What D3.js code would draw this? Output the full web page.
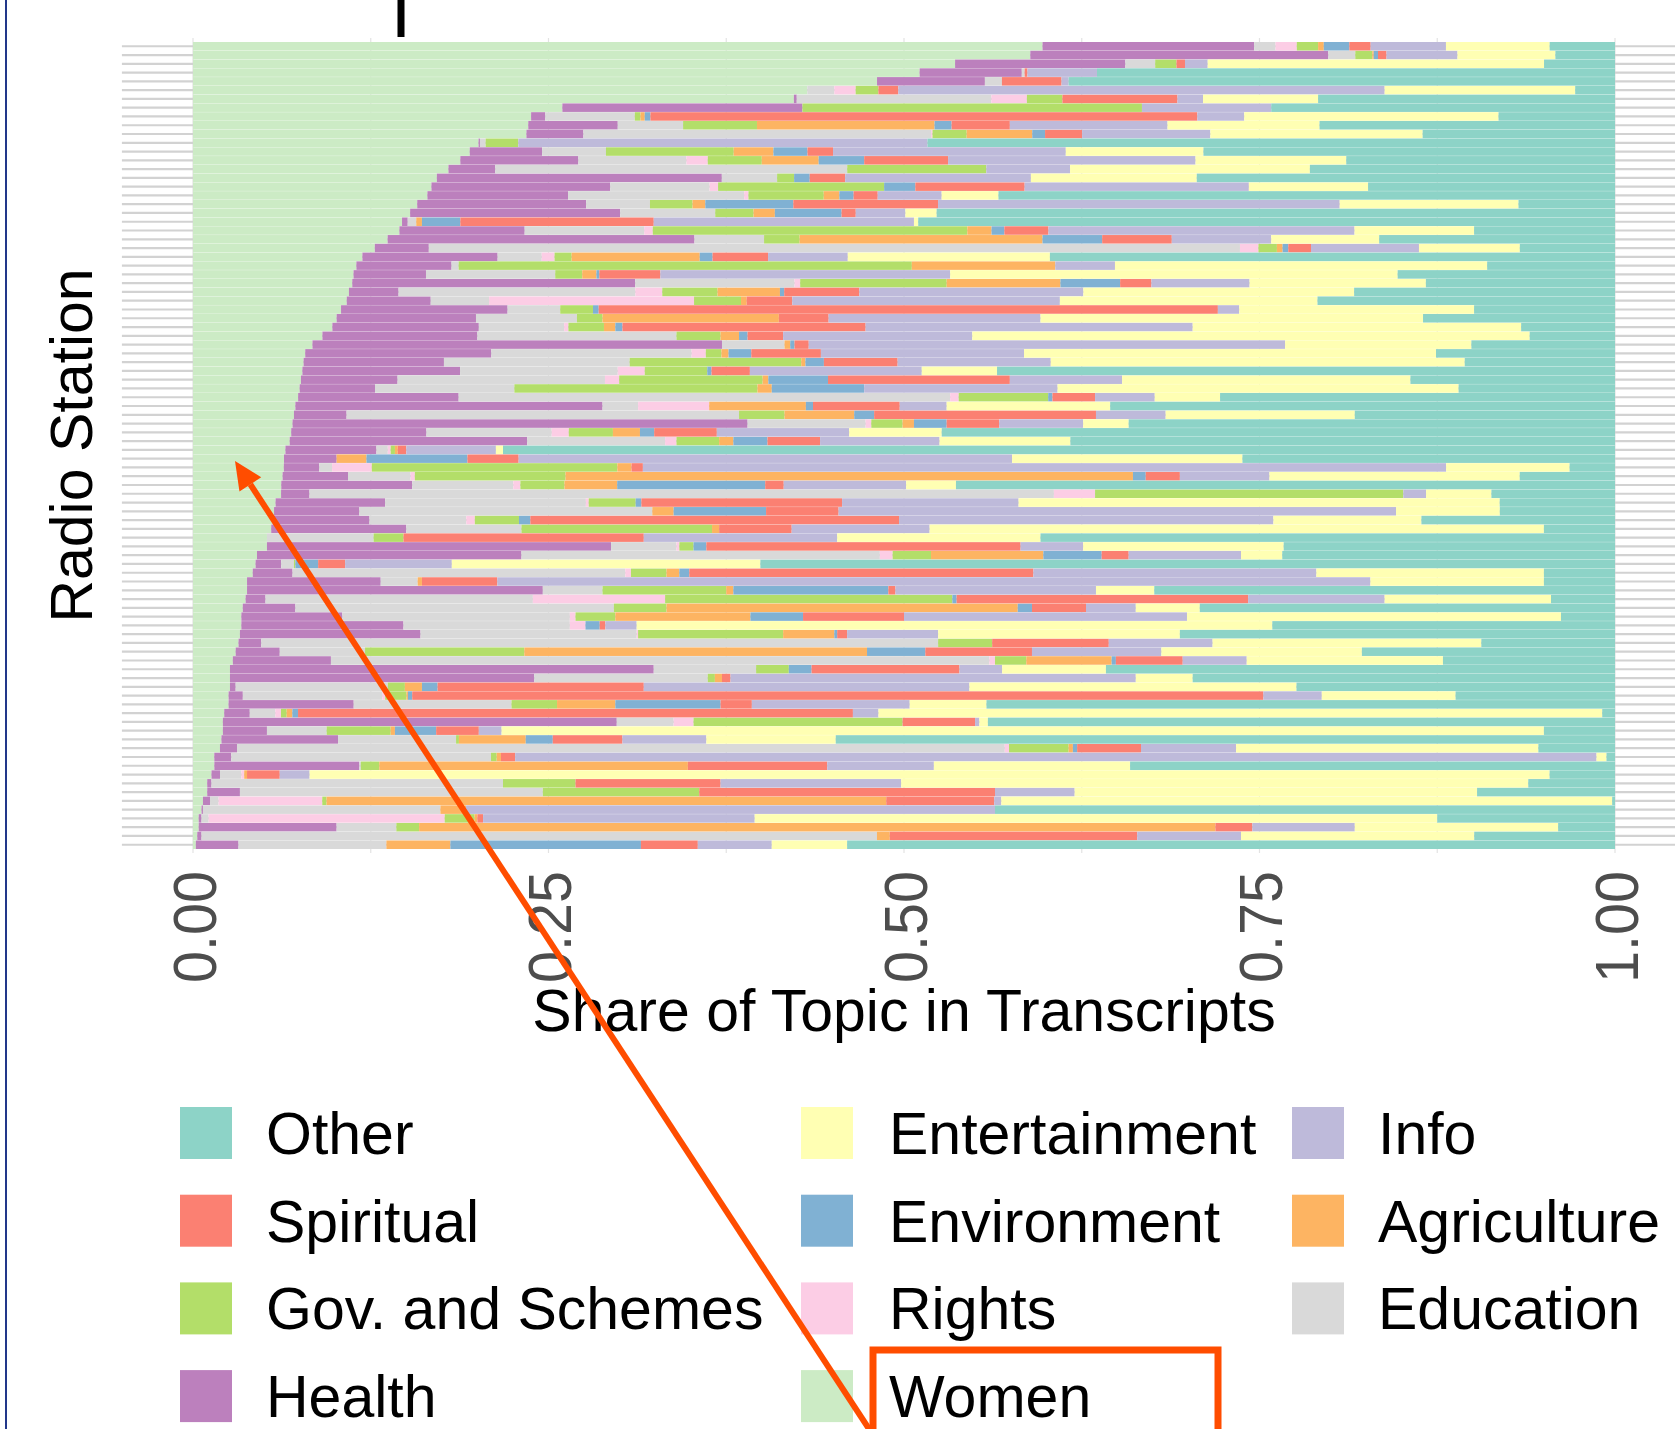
<!DOCTYPE html>
<html lang="en">
<head>
<meta charset="UTF-8">
<title>Share of Topic in Transcripts</title>
<style>
  html, body { margin: 0; padding: 0; background: #fff; }
  svg text { font-family: "Liberation Sans", Arial, Helvetica, sans-serif; }
</style>
</head>
<body>
<svg id="chart"></svg>
<script src="https://cdn.jsdelivr.net/npm/d3@7"></script>
<script>
// share of each topic per radio station (rows top to bottom, in %)
var women = [59.8, 59.0, 53.7, 51.2, 48.2, 43.2, 42.3, 26.0, 23.8, 23.6,
  23.4, 20.1, 19.5, 18.8, 18.0, 17.2, 16.8, 16.5, 15.8, 15.3,
  14.7, 14.5, 13.7, 12.8, 11.9, 11.5, 11.3, 11.2, 11.0, 10.8,
  10.4, 10.1, 9.8, 9.1, 8.4, 7.9, 7.8, 7.7, 7.6, 7.5,
  7.4, 7.2, 7.1, 7.0, 6.9, 6.8, 6.5, 6.4, 6.4, 6.3,
  6.2, 6.2, 5.8, 5.7, 5.6, 5.5, 5.2, 5.2, 4.5, 4.4,
  4.2, 3.8, 3.8, 3.7, 3.5, 3.4, 3.4, 3.3, 3.2, 3.0,
  2.8, 2.6, 2.6, 2.6, 2.5, 2.5, 2.2, 2.1, 2.1, 2.0,
  1.9, 1.5, 1.5, 1.3, 1.0, 1.0, 0.7, 0.6, 0.4, 0.4,
  0.3, 0.2];
var health = [14.9, 21.0, 12.0, 7.2, 7.6, 0, 0.2, 16.9, 1.0, 6.3,
  4.0, 0.1, 5.1, 8.3, 3.3, 20.1, 12.6, 9.9, 11.9, 14.8,
  0.4, 8.8, 21.6, 3.8, 9.5, 6.7, 5.1, 19.9, 3.5, 5.9,
  11.7, 9.8, 10.3, 10.9, 28.8, 13.1, 9.9, 11.1, 6.8, 5.3,
  11.3, 21.6, 3.7, 32.0, 9.5, 16.7, 6.4, 3.7, 2.5, 4.6,
  9.2, 2.0, 7.7, 6.0, 6.8, 9.5, 0, 24.2, 18.6, 1.8,
  2.8, 9.4, 20.8, 1.4, 3.7, 7.1, 11.4, 12.7, 1.6, 3.1,
  6.9, 29.8, 21.4, 0.4, 1.0, 8.8, 1.8, 27.7, 3.1, 8.2,
  1.2, 1.2, 10.2, 0.6, 0.3, 2.3, 0.5, 0.1, 0.2, 9.7,
  0.3, 3.0];
var education = [1.5, 1.9, 2.1, 0.2, 1.2, 1.9, 13.7, 0, 6.3, 4.6,
  24.4, 0.4, 4.5, 7.6, 24.8, 3.9, 7.0, 12.4, 4.5, 6.7,
  0.6, 8.4, 4.9, 57.1, 3.1, 0.5, 9.1, 11.2, 16.7, 4.1,
  3.7, 7.1, 6.0, 14.0, 4.4, 14.1, 13.1, 11.1, 14.6, 9.8,
  34.6, 2.5, 27.6, 8.3, 8.8, 9.7, 0.8, 0, 0.9, 4.4,
  7.1, 52.4, 14.1, 20.6, 6.8, 8.1, 7.5, 4.6, 25.2, 0.9,
  23.4, 2.6, 4.2, 18.8, 22.4, 16.0, 11.7, 15.2, 47.6, 6.0,
  46.3, 7.2, 12.2, 10.7, 9.8, 11.1, 1.8, 4.0, 4.2, 8.3,
  54.1, 18.3, 0.1, 1.5, 20.5, 21.3, 0.6, 16.7, 0.5, 4.2,
  47.5, 10.4];
var rights = [1.5, 0, 0, 0, 0, 1.5, 2.5, 0, 0, 0,
  0.1, 0, 0, 1.5, 0, 0, 0.6, 0.3, 0, 0,
  0, 0.6, 0, 1.3, 0.9, 0, 0, 0.4, 1.9, 14.4,
  0, 0, 0.3, 0, 0, 1.0, 0, 1.9, 1.0, 0,
  0.6, 5.0, 0, 0.4, 1.2, 0.8, 0.2, 0, 2.8, 0.3,
  0.5, 2.9, 0.2, 0, 0.6, 0, 0, 0.2, 0.9, 0,
  0.4, 0, 0, 9.3, 0, 0.4, 1.1, 0.1, 0, 0,
  0.4, 0, 0, 0, 0.2, 0, 0.4, 1.4, 0, 0,
  0.3, 0, 0, 0.2, 0, 0, 7.3, 0, 16.6, 0,
  0, 0];
var gov = [1.5, 1.2, 1.5, 0, 0, 1.6, 2.5, 23.9, 0.4, 5.2,
  2.4, 2.3, 9.0, 3.8, 9.8, 1.2, 11.7, 5.3, 3.0, 2.7,
  0, 22.1, 2.5, 1.3, 1.2, 31.9, 1.9, 10.3, 3.9, 3.3,
  2.3, 1.8, 2.5, 3.1, 0, 1.1, 12.1, 4.4, 10.1, 17.1,
  6.3, 0, 3.2, 2.2, 3.1, 3.0, 0.3, 0, 17.3, 10.6,
  3.1, 21.7, 3.3, 0, 3.1, 13.4, 2.1, 1.0, 2.7, 0.1,
  2.5, 0, 8.7, 20.2, 3.7, 2.8, 0, 10.2, 3.8, 11.2,
  2.2, 2.3, 0.5, 1.2, 1.5, 3.2, 0.4, 14.7, 4.5, 0.2,
  4.2, 0.4, 1.3, 0, 5.1, 11.0, 0.3, 0, 2.1, 1.6,
  0, 0];
var agriculture = [0.4, 0.1, 0, 0, 0, 0, 0, 0, 0.3, 12.5,
  4.6, 0, 2.8, 4.0, 0, 0, 0, 1.1, 0.9, 1.5,
  0.4, 1.7, 17.1, 0.4, 9.0, 10.1, 1.0, 8.0, 4.4, 0.4,
  0, 12.4, 0.8, 1.3, 0.4, 0.5, 0.3, 0, 0.4, 1.0,
  0, 6.8, 4.9, 0.8, 1.9, 1.0, 0.2, 2.1, 1.0, 39.9,
  3.7, 0, 0, 1.5, 0, 0.5, 0, 0, 7.9, 0,
  0.9, 0.3, 0.5, 0, 24.7, 9.5, 0, 3.6, 0, 24.1,
  6.0, 0, 0.5, 1.2, 0.1, 4.1, 0.4, 0, 0.3, 4.7,
  0.3, 0.3, 21.7, 0.2, 0, 0, 39.4, 1.8, 0.2, 56.0,
  0.9, 4.5];
var environment = [1.8, 0.3, 0, 0, 0, 0, 0, 0, 0.4, 1.2,
  0.9, 0, 2.4, 3.2, 0, 1.1, 2.2, 1.0, 6.2, 4.7,
  2.7, 0.9, 4.2, 0.4, 0.9, 0, 0.2, 4.2, 0.3, 0,
  0.4, 0, 0.5, 0.6, 0.3, 1.6, 1.3, 0.3, 4.2, 6.5,
  0.3, 0.5, 1.4, 2.3, 1.0, 2.4, 0, 7.1, 0, 0.9,
  10.4, 0, 0.4, 6.5, 0.8, 0, 0, 0.9, 4.1, 1.6,
  0.7, 0, 10.9, 0.3, 1.0, 3.7, 1.0, 0.2, 0, 4.1,
  0.3, 1.6, 0, 1.1, 0.3, 7.4, 0.4, 0, 2.9, 1.9,
  0.3, 0, 0, 0, 0, 0, 0, 0, 0, 0,
  0, 13.4];
var spiritual = [1.5, 0.6, 0.6, 0.2, 4.2, 1.4, 8.1, 0, 38.5, 4.1,
  2.6, 0, 1.8, 5.9, 0, 2.5, 7.7, 1.7, 10.2, 1.0,
  13.6, 3.1, 4.9, 1.6, 3.9, 0, 4.3, 2.2, 5.3, 3.2,
  43.5, 3.5, 17.1, 2.5, 1.0, 4.9, 5.2, 2.7, 12.8, 0,
  3.0, 6.1, 15.6, 3.7, 4.4, 3.7, 0.6, 3.6, 0.8, 2.4,
  1.3, 0, 14.1, 5.1, 25.9, 5.1, 16.9, 22.1, 1.9, 1.9,
  24.2, 5.3, 0.5, 20.5, 3.8, 7.1, 0.4, 0.7, 8.2, 7.5,
  4.7, 10.4, 0.6, 14.5, 59.8, 2.2, 39.1, 5.1, 3.0, 4.9,
  4.5, 1.0, 9.8, 2.3, 10.2, 20.8, 7.6, 0, 0.4, 2.6,
  17.4, 4.0];
var info = [5.3, 5.0, 1.6, 4.9, 0.5, 34.2, 1.8, 9.1, 3.3, 11.1,
  9.0, 28.8, 16.4, 17.4, 5.9, 13.1, 15.8, 4.5, 28.3, 3.5,
  18.3, 21.5, 7.0, 7.6, 5.6, 4.2, 20.4, 6.9, 15.8, 18.8,
  1.5, 14.9, 23.0, 13.3, 33.5, 14.3, 10.8, 12.1, 7.9, 13.6,
  4.2, 3.3, 4.9, 5.9, 9.3, 8.4, 6.3, 34.7, 56.6, 6.3,
  8.6, 1.6, 12.4, 39.2, 26.3, 9.7, 13.6, 4.4, 7.9, 7.5,
  19.9, 61.4, 14.1, 9.6, 3.5, 19.9, 2.2, 6.4, 7.3, 9.1,
  4.5, 3.0, 28.5, 22.9, 4.1, 11.1, 1.8, 0.3, 1.6, 5.9,
  6.7, 76.2, 7.5, 2.1, 12.7, 5.6, 0.5, 37.2, 19.1, 7.2,
  7.3, 5.2];
var entertainment = [7.3, 6.9, 23.7, 0, 0, 13.4, 8.1, 0, 17.9, 10.7,
  14.9, 0, 9.7, 10.6, 16.9, 11.7, 8.4, 4.0, 12.6, 2.2,
  0.3, 8.4, 7.6, 7.1, 14.2, 26.2, 31.5, 12.4, 19.1, 18.1,
  16.5, 26.9, 23.1, 39.2, 13.1, 29.0, 29.2, 5.3, 20.3, 28.2,
  4.6, 11.5, 13.3, 3.2, 6.5, 9.2, 0.5, 16.2, 8.7, 17.6,
  3.5, 4.6, 33.8, 7.3, 10.4, 43.2, 14.3, 14.1, 2.9, 21.7,
  16.0, 12.2, 4.1, 11.7, 4.5, 26.3, 44.7, 17.0, 18.9, 14.1,
  13.8, 7.3, 4.0, 23.0, 9.4, 5.4, 51.0, 0.6, 73.3, 9.1,
  21.3, 0.7, 13.8, 87.2, 44.1, 28.3, 43.0, 0, 48.0, 14.3,
  16.4, 5.3];
var other = [4.6, 4.2, 5.0, 36.5, 38.5, 2.8, 20.9, 24.2, 8.2, 20.8,
  13.5, 48.4, 29.0, 18.9, 21.5, 29.5, 17.4, 43.4, 6.8, 47.8,
  49.0, 9.9, 16.6, 6.7, 39.7, 9.0, 15.3, 13.3, 18.4, 20.9,
  9.9, 13.5, 6.6, 6.0, 10.1, 12.6, 10.6, 43.5, 14.4, 11.0,
  27.8, 35.5, 18.3, 34.2, 47.3, 38.3, 78.2, 26.2, 3.2, 6.7,
  46.3, 8.7, 8.1, 8.1, 13.6, 5.0, 40.4, 23.3, 23.4, 60.1,
  5.0, 5.0, 32.4, 4.5, 29.2, 3.8, 24.1, 30.6, 9.4, 17.8,
  12.1, 35.8, 29.7, 22.4, 11.2, 44.2, 0.9, 44.1, 5.0, 54.8,
  5.4, 0.6, 34.1, 4.6, 6.1, 9.7, 0.2, 43.6, 12.5, 4.0,
  9.9, 54.0];

// stacking order, left to right
var topics = ["Women", "Health", "Education", "Rights", "Gov. and Schemes", "Agriculture",
  "Environment", "Spiritual", "Info", "Entertainment", "Other"];
var series = [women, health, education, rights, gov, agriculture,
  environment, spiritual, info, entertainment, other];
var colors = ["#ccebc5", "#bc80bd", "#d9d9d9", "#fccde5", "#b3de69", "#fdb462",
  "#80b1d3", "#fb8072", "#bebada", "#ffffb3", "#8dd3c7"];
// legend reads column by column
var legendOrder = ["Other", "Spiritual", "Gov. and Schemes", "Health",
  "Entertainment", "Environment", "Rights", "Women",
  "Info", "Agriculture", "Education"];
var xTicks = [0, 0.25, 0.5, 0.75, 1];

var stations = women.map(function(d, i) { return "Station " + (i + 1); });
var rows = stations.map(function(s, i) {
  var r = { station: s };
  topics.forEach(function(t, k) { r[t] = series[k][i]; });
  return r;
});

var W = 1675, H = 1429;
var svg = d3.select("#chart").attr("width", W).attr("height", H);
svg.append("rect").attr("width", W).attr("height", H).attr("fill", "#fff");

var x = d3.scaleLinear().domain([0, 1]).range([193, 1615]);
var y = d3.scaleBand().domain(stations).range([42, 849]).paddingInner(0.03);
var color = d3.scaleOrdinal().domain(topics).range(colors);

// grid
var grid = svg.append("g");
grid.selectAll(".vgrid")
  .data(d3.range(0, 1.0001, 0.125))
  .enter().append("line")
  .attr("x1", function(d) { return x(d); }).attr("x2", function(d) { return x(d); })
  .attr("y1", 38).attr("y2", 853)
  .attr("stroke", "#e3e3e3").attr("stroke-width", 1.2);
grid.selectAll(".hgrid")
  .data(stations)
  .enter().append("line")
  .attr("x1", x(-0.05)).attr("x2", W)
  .attr("y1", function(d) { return y(d) + y.bandwidth() / 2; })
  .attr("y2", function(d) { return y(d) + y.bandwidth() / 2; })
  .attr("stroke", "#d2d2d2").attr("stroke-width", 2.2);

// stacked bars
var stacked = d3.stack().keys(topics).offset(d3.stackOffsetExpand)(rows);
svg.append("g").selectAll("g")
  .data(stacked)
  .enter().append("g")
  .attr("fill", function(d) { return color(d.key); })
  .selectAll("rect")
  .data(function(d) { return d; })
  .enter().append("rect")
  .attr("x", function(d) { return x(d[0]); })
  .attr("width", function(d) { return Math.max(0, x(d[1]) - x(d[0])); })
  .attr("y", function(d) { return y(d.data.station); })
  .attr("height", y.bandwidth());

// x axis
var xAxis = svg.append("g")
  .attr("transform", "translate(0,849)")
  .call(d3.axisBottom(x).tickValues(xTicks).tickFormat(d3.format(".2f")).tickSize(0));
xAxis.select(".domain").remove();
xAxis.selectAll("text")
  .attr("x", 0).attr("y", 0).attr("dy", "0.36em")
  .attr("transform", "translate(0,22) rotate(-90)")
  .attr("text-anchor", "end")
  .attr("fill", "#4d4d4d")
  .attr("font-size", 62)
  .attr("textLength", 112)
  .attr("lengthAdjust", "spacingAndGlyphs")
  .style("font-family", "'Liberation Sans', Arial, sans-serif");

svg.append("text")
  .attr("x", (x(0) + x(1)) / 2).attr("y", 1031)
  .attr("text-anchor", "middle")
  .attr("font-size", 59).attr("fill", "#000")
  .text("Share of Topic in Transcripts");

svg.append("text")
  .attr("transform", "translate(92," + ((42 + 849) / 2) + ") rotate(-90)")
  .attr("text-anchor", "middle")
  .attr("font-size", 59).attr("fill", "#000")
  .text("Radio Station");

// legend
var keyX = [180, 801, 1292], labelX = [266, 889, 1378];
var legend = svg.append("g").selectAll("g")
  .data(legendOrder)
  .enter().append("g")
  .attr("transform", function(d, i) {
    return "translate(0," + (1133 + (i % 4) * 87.7) + ")";
  });
legend.append("rect")
  .attr("x", function(d, i) { return keyX[Math.floor(i / 4)]; })
  .attr("y", -26).attr("width", 52).attr("height", 52)
  .attr("fill", function(d) { return color(d); });
legend.append("text")
  .attr("x", function(d, i) { return labelX[Math.floor(i / 4)]; })
  .attr("y", 21)
  .attr("font-size", 59).attr("fill", "#000")
  .text(function(d) { return d; });

// cropped page leftovers: frame edge and title descender
svg.append("line").attr("x1", 6).attr("x2", 6).attr("y1", 0).attr("y2", H)
  .attr("stroke", "#22378a").attr("stroke-width", 2);
svg.append("line").attr("x1", 401).attr("x2", 401).attr("y1", 0).attr("y2", 37)
  .attr("stroke", "#000").attr("stroke-width", 7);

// highlight annotation
var accent = "#ff4d00";
var tip = [235, 461], tail = [871, 1432], headLen = 28, headHalf = 13;
var dx = tip[0] - tail[0], dy = tip[1] - tail[1], len = Math.sqrt(dx * dx + dy * dy);
var ux = dx / len, uy = dy / len;
var bx = tip[0] - headLen * ux, by = tip[1] - headLen * uy;
svg.append("line")
  .attr("x1", tail[0]).attr("y1", tail[1]).attr("x2", bx).attr("y2", by)
  .attr("stroke", accent).attr("stroke-width", 6);
svg.append("path")
  .attr("d", d3.line()([tip, [bx - headHalf * uy, by + headHalf * ux], [bx + headHalf * uy, by - headHalf * ux]]) + "Z")
  .attr("fill", accent);
svg.append("rect")
  .attr("x", 873).attr("y", 1350).attr("width", 345).attr("height", 120)
  .attr("fill", "none").attr("stroke", accent).attr("stroke-width", 7);
</script>
</body>
</html>
